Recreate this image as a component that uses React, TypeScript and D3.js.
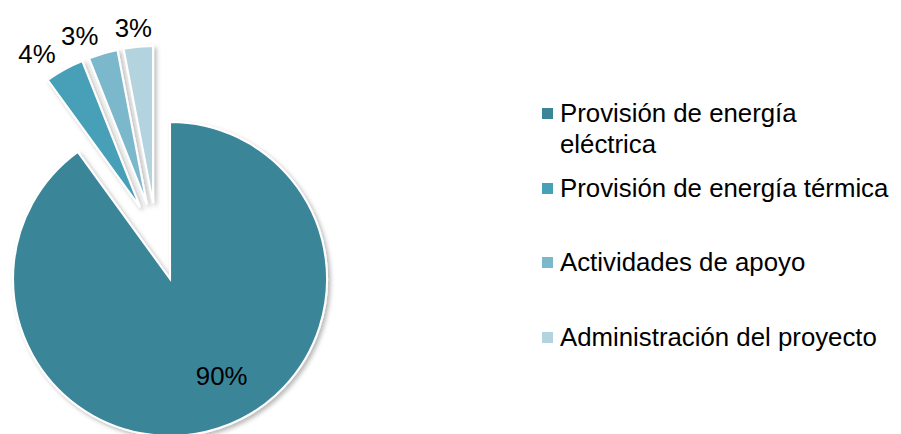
import React from "react";
import * as d3 from "d3";

const categories = [
  "Provisión de energía eléctrica",
  "Provisión de energía térmica",
  "Actividades de apoyo",
  "Administración del proyecto",
];
const values = [90, 4, 3, 3];
const percentLabels = ["90%", "4%", "3%", "3%"];
const legendLines = [
  ["Provisión de energía", "eléctrica"],
  ["Provisión de energía térmica"],
  ["Actividades de apoyo"],
  ["Administración del proyecto"],
];

const colors = ["#3b8599", "#46a0b7", "#7bb8cc", "#b3d3df"];
const explode = [44.8, 33.5, 33.5, 33.5];

const W = 901;
const H = 434;
const R = 157;
const CX = 156.2;
const CY = 236.4;
const FONT = "'Liberation Sans', Arial, sans-serif";
const FS = 25.8;

export default function App() {
  const pie = d3
    .pie<number>()
    .sort(null)
    .value((d) => d)
    .startAngle(0)
    .endAngle(2 * Math.PI);
  const arcs = pie(values);
  const arc = d3.arc<d3.PieArcDatum<number>>().innerRadius(0).outerRadius(R);

  const legendBaselines = [122, 197, 271, 346];

  return (
    <svg
      width={W}
      height={H}
      style={{ position: "absolute", left: 0, top: 0, background: "#fff" }}
      fontFamily={FONT}
    >
      <defs>
        <filter id="sh" x="-30%" y="-30%" width="160%" height="160%">
          <feDropShadow dx="2.5" dy="2.5" stdDeviation="2" floodColor="#000" floodOpacity="0.28" />
        </filter>
      </defs>
      {arcs.map((a, i) => {
        const mid = (a.startAngle + a.endAngle) / 2;
        const ox = CX + explode[i] * Math.sin(mid);
        const oy = CY - explode[i] * Math.cos(mid);
        return (
          <g key={i} transform={`translate(${ox},${oy})`}>
            <path
              d={arc(a) || ""}
              fill={colors[i]}
              stroke="#fff"
              strokeWidth={2}
              strokeLinejoin="miter"
              filter="url(#sh)"
            />
          </g>
        );
      })}
      {arcs.map((a, i) => {
        const mid = (a.startAngle + a.endAngle) / 2;
        const ox = CX + explode[i] * Math.sin(mid);
        const oy = CY - explode[i] * Math.cos(mid);
        if (i === 0) {
          const ang = mid - (10 * Math.PI) / 180;
          const lr = R * 0.7;
          const x = ox + lr * Math.sin(ang);
          const y = oy - lr * Math.cos(ang);
          return (
            <text
              key={"l" + i}
              x={x}
              y={y}
              fontSize={FS}
              textAnchor="middle"
              dominantBaseline="central"
              fill="#000"
            >
              {percentLabels[i]}
            </text>
          );
        }
        const lr = R * 1.13;
        const x = ox + lr * Math.sin(mid);
        const y = oy - lr * Math.cos(mid);
        const anchor = Math.abs(Math.sin(mid)) > 0.2 ? "end" : "middle";
        return (
          <text
            key={"l" + i}
            x={x + (anchor === "end" ? 1 : -3)}
            y={y + 2}
            fontSize={FS}
            textAnchor={anchor}
            dominantBaseline="central"
            fill="#000"
          >
            {percentLabels[i]}
          </text>
        );
      })}
      {categories.map((c, i) => (
        <g key={c}>
          <rect
            x={542}
            y={legendBaselines[i] - 14}
            width={11}
            height={11}
            fill={colors[i]}
          />
          {legendLines[i].map((ln, j) => (
            <text
              key={j}
              x={560}
              y={legendBaselines[i] + j * 31}
              fontSize={FS}
              fill="#000"
            >
              {ln}
            </text>
          ))}
        </g>
      ))}
    </svg>
  );
}
